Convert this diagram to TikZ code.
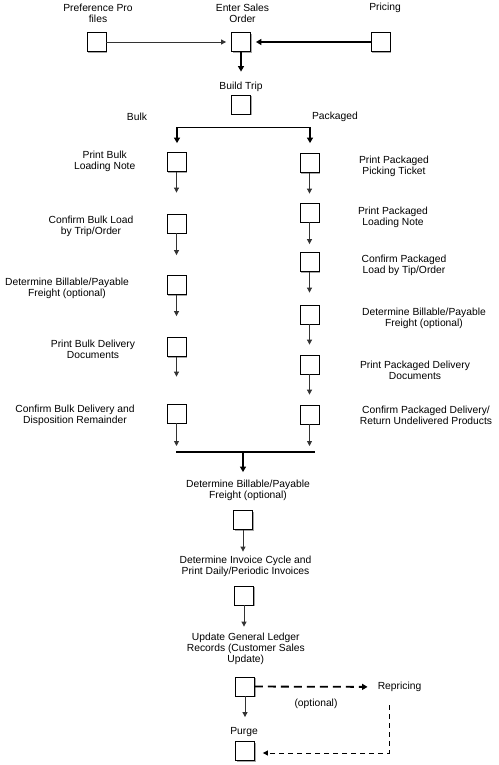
\documentclass[tikz,border=0pt]{standalone}
\usepackage{fontspec}
\setmainfont{Liberation Sans}
\usetikzlibrary{arrows.meta,shadows}
\begin{document}
\begin{tikzpicture}[x=1pt,y=-1pt,
  every node/.style={font=\fontsize{10.3}{11}\selectfont},
  box/.style={draw,line width=0.8pt,fill=white,minimum size=19pt,inner sep=0pt,
    drop shadow={shadow xshift=1.4pt,shadow yshift=-1.4pt,fill=black!35,opacity=1}},
  lbl/.style={align=center,inner sep=0pt},
  thinarrow/.style={line width=0.8pt,draw=black!80,-{Triangle[length=5pt,width=5pt]}},
  thickarrow/.style={line width=2pt,-{Triangle[length=5.5pt,width=6pt]}},
  thickline/.style={line width=1.8pt},
  dasharrow/.style={line width=1.8pt,dash pattern=on 8pt off 5pt,-{Triangle[length=5.5pt,width=6pt]}},
  thindash/.style={line width=0.8pt,dash pattern=on 5pt off 4pt,-{Triangle[length=5pt,width=5pt]}}]
\useasboundingbox (0,0) rectangle (498,765);
% top row
\node[lbl] (tpref) at (98,13) {Preference Pro\\files};
\node[lbl] (tenter) at (242.5,13) {Enter Sales\\Order};
\node[lbl] (tpric) at (385,8) {Pricing};
\node[box] (pref) at (96.5,42) {};
\node[box] (enter) at (241,42) {};
\node[box] (pric) at (380.5,42) {};
\draw[thinarrow,shorten >=5pt] (pref) -- (enter);
\draw[thickarrow,shorten >=5pt] (pric) -- (enter);
% build trip
\node[lbl] (tbuild) at (241,87) {Build Trip};
\node[box] (build) at (241,104.5) {};
\draw[thickarrow,shorten >=23pt] (enter) -- (build);
\node[lbl] (tbulk) at (137,117) {Bulk};
\node[lbl] (tpack) at (335,117) {Packaged};
% columns
\node[box] (L1) at (176.5,162) {};
\node[box] (L2) at (176.5,223.5) {};
\node[box] (L3) at (176.5,285) {};
\node[box] (L4) at (176.5,347) {};
\node[box] (L5) at (176.5,413.5) {};
\node[box] (R1) at (309.5,163) {};
\node[box] (R2) at (309.5,212.5) {};
\node[box] (R3) at (309.5,262) {};
\node[box] (R4) at (309.5,314.5) {};
\node[box] (R5) at (309.5,364.5) {};
\node[box] (R6) at (309.5,414.5) {};
\node[lbl] (tL1) at (104.7,161.5) {Print Bulk\\Loading Note};
\node[lbl] (tL2) at (91,226.5) {Confirm Bulk Load\\by Trip/Order};
\node[lbl] (tL3) at (67,288.5) {Determine Billable/Payable\\Freight (optional)};
\node[lbl] (tL4) at (93,349) {Print Bulk Delivery\\Documents};
\node[lbl] (tL5) at (75,415.5) {Confirm Bulk Delivery and\\Disposition Remainder};
\node[lbl] (tR1) at (394,166.5) {Print Packaged\\Picking Ticket};
\node[lbl] (tR2) at (393,217.5) {Print Packaged\\Loading Note};
\node[lbl] (tR3) at (404,265.5) {Confirm Packaged\\Load by Tip/Order};
\node[lbl] (tR4) at (424,318.5) {Determine Billable/Payable\\Freight (optional)};
\node[lbl] (tR5) at (415,370.5) {Print Packaged Delivery\\Documents};
\node[lbl] (tR6) at (426,415.5) {Confirm Packaged Delivery/\\Return Undelivered Products};
% split
\coordinate (sl) at (177,127.5);
\coordinate (sr) at (310,127.5);
\draw[thickline] (sl) -- (sr);
\draw[thickarrow,shorten >=9pt] (sl) -- (sl |- L1.north);
\draw[thickarrow,shorten >=10pt] (sr) -- (sr |- R1.north);
% left arrows
\draw[thinarrow,shorten >=21pt] (L1) -- (L2);
\draw[thinarrow,shorten >=20pt] (L2) -- (L3);
\draw[thinarrow,shorten >=21pt] (L3) -- (L4);
\draw[thinarrow,shorten >=27pt] (L4) -- (L5);
% right arrows
\draw[thinarrow,shorten >=9pt] (R1) -- (R2);
\draw[thinarrow,shorten >=8pt] (R2) -- (R3);
\draw[thinarrow,shorten >=12pt] (R3) -- (R4);
\draw[thinarrow,shorten >=10pt] (R4) -- (R5);
\draw[thinarrow,shorten >=10pt] (R5) -- (R6);
% join
\coordinate (jl) at (176,452);
\coordinate (jr) at (315,452);
\coordinate (jm) at (243,452);
\draw[thinarrow,shorten >=6pt] (L5) -- (L5 |- jl);
\draw[thinarrow,shorten >=6pt] (R6) -- (R6 |- jl);
\draw[thickline] (jl) -- (jr);
% bottom
\node[lbl] (tF) at (248,490) {Determine Billable/Payable\\Freight (optional)};
\node[box] (F1) at (243,520) {};
\draw[thickarrow,shorten >=38pt] (jm) -- (F1);
\node[lbl] (tI) at (245.5,566.5) {Determine Invoice Cycle and\\Print Daily/Periodic Invoices};
\node[box] (I1) at (244,595.5) {};
\draw[thinarrow,shorten >=34pt] (F1) -- (F1 |- I1.north);
\node[lbl] (tU) at (245.8,648.5) {Update General Ledger\\Records (Customer Sales\\Update)};
\node[box] (U1) at (245,686.5) {};
\draw[thinarrow,shorten >=50pt] (I1) -- (I1 |- U1.north);
\node[lbl] (tP) at (244,732) {Purge};
\node[box] (P1) at (245,751) {};
\draw[thinarrow,shorten >=24pt] (U1) -- (P1);
\node[lbl] (rep) at (399.5,687) {Repricing};
\node[lbl] (topt) at (316,704) {(optional)};
\draw[dasharrow,shorten >=10pt] (U1) -- (rep);
\coordinate (rtop) at (389,705);
\coordinate (rc) at (389,753);
\draw[thindash,shorten >=8pt] (rtop) -- (rc) -- (P1.east |- rc);
\end{tikzpicture}
\end{document}
